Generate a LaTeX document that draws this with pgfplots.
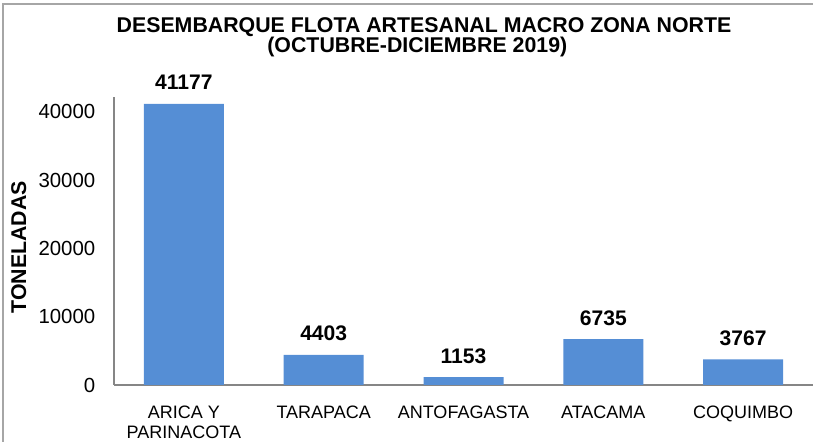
\documentclass[border=0pt]{standalone}
\usepackage{pgfplots}
\pgfplotsset{compat=1.18}
\usepackage{fontspec}
\setmainfont{Liberation Sans}
\definecolor{barblue}{RGB}{85,142,213}
\definecolor{axgray}{RGB}{134,134,134}
\definecolor{framegray}{RGB}{166,166,166}
\begin{document}
\begin{tikzpicture}
\useasboundingbox (0,0) rectangle (609.75pt,331.5pt);
\draw[framegray, line width=1.5pt] (2.25pt,0) -- (2.25pt,328.5pt) -- (609.75pt,328.5pt);
\node[anchor=base, inner sep=0pt, font=\fontsize{16pt}{18pt}\selectfont\bfseries] at (318pt,307pt) {DESEMBARQUE FLOTA ARTESANAL MACRO ZONA NORTE};
\node[anchor=base, inner sep=0pt, font=\fontsize{16pt}{18pt}\selectfont\bfseries] at (313pt,292pt) {(OCTUBRE-DICIEMBRE 2019)};
\node[anchor=base, inner sep=0pt, rotate=90, font=\fontsize{16pt}{18pt}\selectfont\bfseries] at (19.5pt,146pt) {TONELADAS};
\begin{axis}[
  at={(85.5pt,42.75pt)}, anchor=south west,
  scale only axis, width=524.25pt, height=216pt,
  xmin=-0.5, xmax=4.5, ymin=0, ymax=42170,
  axis lines*=left,
  axis line style={axgray, line width=0.8pt},
  x axis line style={-}, y axis line style={-},
  ytick={0,10000,20000,30000,40000},
  xtick={0,1,2,3,4},
  xticklabels={{ARICA Y\\PARINACOTA},TARAPACA,ANTOFAGASTA,ATACAMA,COQUIMBO},
  major tick length=0pt,
  scaled y ticks=false,
  /pgf/number format/assume math mode=true,
  /pgf/number format/1000 sep={},
  yticklabel style={font=\fontsize{15.3pt}{18pt}\selectfont, xshift=-10.5pt},
  xticklabel style={font=\fontsize{13.5pt}{15pt}\selectfont, align=center, yshift=-12pt},
  ybar, bar width=60pt,
  nodes near coords,
  every node near coord/.append style={font=\fontsize{15.8pt}{18pt}\selectfont\bfseries, anchor=base, yshift=10.5pt},
]
\addplot[fill=barblue, draw=none] coordinates {(0,41177) (1,4403) (2,1153) (3,6735) (4,3767)};
\end{axis}
\end{tikzpicture}
\end{document}
